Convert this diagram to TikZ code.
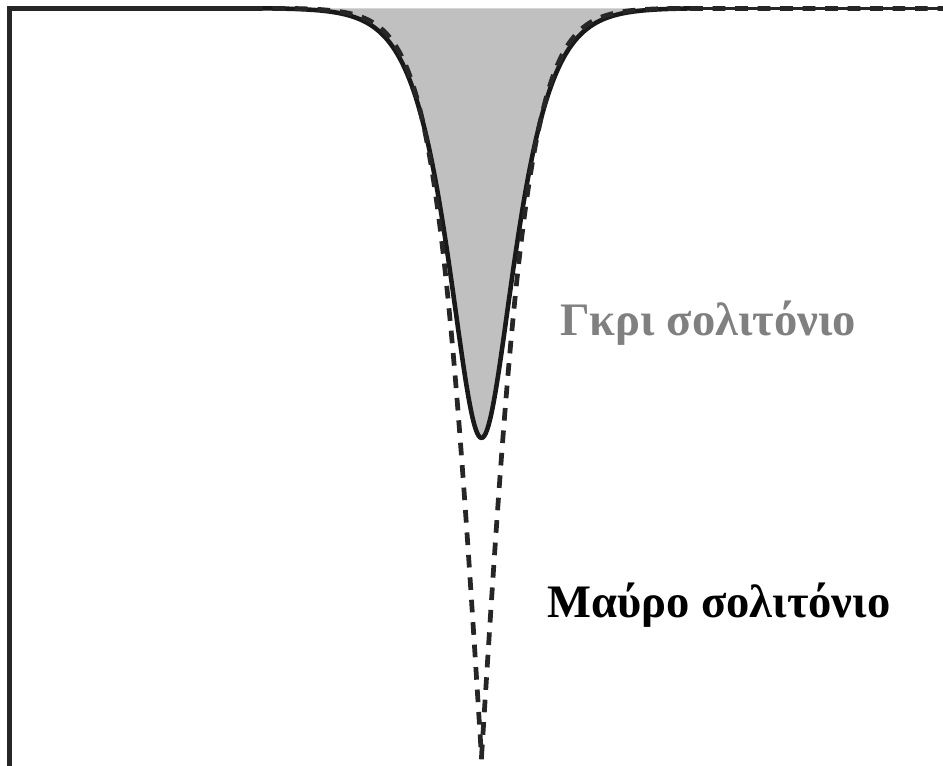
\documentclass[tikz,border=0pt]{standalone}
\usepackage{fontspec}
\setmainfont{Liberation Serif}
\definecolor{gfill}{RGB}{192,192,192}
\definecolor{gtext}{RGB}{128,128,128}
\tikzset{
  framestyle/.style={line width=2.6pt, draw=black!85, line cap=rect},
  graysol/.style={line width=2.6pt, draw=black!90, line join=round},
  graytail/.style={line width=1.5pt, draw=black!85},
  darksol/.style={line width=2.7pt, draw=black!85, dash pattern=on 7.2pt off 5.6pt},
  labelstyle/.style={font=\bfseries\fontsize{26.5}{30}\selectfont, inner sep=0pt, anchor=base west},
}
\begin{document}
\begin{tikzpicture}[x=0.02cm,y=-0.02cm,
  declare function={
    th(\t)=tanh(max(-4,min(4,\t)));
    gy(\t)=8+749*(1-sqrt(0.1815+0.8185*th(\t/52)*th(\t/52)));
    dy(\t)=8+749*(1-abs(th(\t/47)));
  }]
\useasboundingbox (0,0) rectangle (943,765);
\def\xc{481.5}
% gray fill
\fill[gfill] plot[domain=-231.5:0,samples=160] ({\xc+\x},{gy(\x)})
  -- plot[domain=0:461.5,samples=300] ({\xc+\x},{gy(\x)}) -- cycle;
% frame
\coordinate (corner) at (9.5,8.5);
\coordinate (bottomleft) at (9.5,765);
\coordinate (topjoin) at (252,8.5);
\draw[framestyle] (bottomleft) -- (corner);
\draw[framestyle] (corner) -- (topjoin);
% gray soliton (solid)
\draw[graysol] plot[domain=-231.5:0,samples=160] ({\xc+\x},{gy(\x)})
  -- plot[domain=0:220,samples=160] ({\xc+\x},{gy(\x)});
\draw[graytail] plot[domain=220:461.5,samples=20] ({\xc+\x},{gy(\x)});
% dark soliton (dashed)
\draw[darksol] plot[domain=-231.5:0,samples=160] ({\xc+\x},{dy(\x)})
  -- plot[domain=0:461.5,samples=300] ({\xc+\x},{dy(\x)});
% labels
\node[labelstyle, text=gtext] (graylabel) at (560,335) {Γκρι σολιτόνιο};
\node[labelstyle] (darklabel) at (547,617) {Μαύρο σολιτόνιο};
\end{tikzpicture}
\end{document}
